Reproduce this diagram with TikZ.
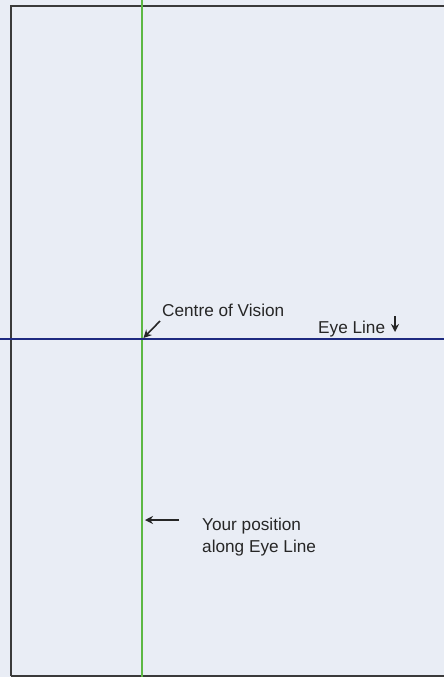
\documentclass[tikz,border=0pt]{standalone}
\usepackage{fontspec}
\setmainfont{Liberation Sans}
\usetikzlibrary{arrows.meta}
\definecolor{bgc}{HTML}{E9EDF5}
\definecolor{framec}{HTML}{3A3A3A}
\definecolor{greenc}{HTML}{5DB844}
\definecolor{bluec}{HTML}{1E2A80}
\tikzset{
  lbl/.style={font=\fontsize{17.2}{22}\selectfont, inner sep=0pt, text=black!85},
  pointer/.style={-{Stealth[length=8pt,width=8pt]}, line width=1.6pt, black!85},
}
\begin{document}
\begin{tikzpicture}[x=1pt,y=-1pt]
\useasboundingbox (0,0) rectangle (444,677);
\fill[bgc] (0,0) rectangle (444,677);
\draw[framec, line width=1.6pt] (11,676) -- (11,6) -- (460,6);
\draw[framec, line width=1.6pt] (11,676) -- (460,676);
\coordinate (gtop) at (142,0);
\coordinate (gbot) at (142,677);
\draw[greenc, line width=2pt] (gtop) -- (gbot);
\coordinate (bl) at (0,339);
\coordinate (br) at (444,339);
\draw[bluec, line width=2.4pt] (bl) -- (br);
\coordinate (cv) at (143.5,338);
\node[lbl, anchor=base west] (cvl) at (162,316) {Centre of Vision};
\coordinate (cvs) at (160,321);
\draw[pointer] (cvs) -- (cv);
\node[lbl, anchor=base west] (eye) at (318,333) {Eye Line};
\coordinate (ea) at (395,316);
\coordinate (eb) at (395,332);
\draw[pointer] (ea) -- (eb);
\node[lbl, anchor=base west, align=left] (pos) at (202,552) {Your position\\along Eye Line};
\coordinate (ps) at (179,520);
\coordinate (pe) at (145,520);
\draw[pointer] (ps) -- (pe);
\end{tikzpicture}
\end{document}
